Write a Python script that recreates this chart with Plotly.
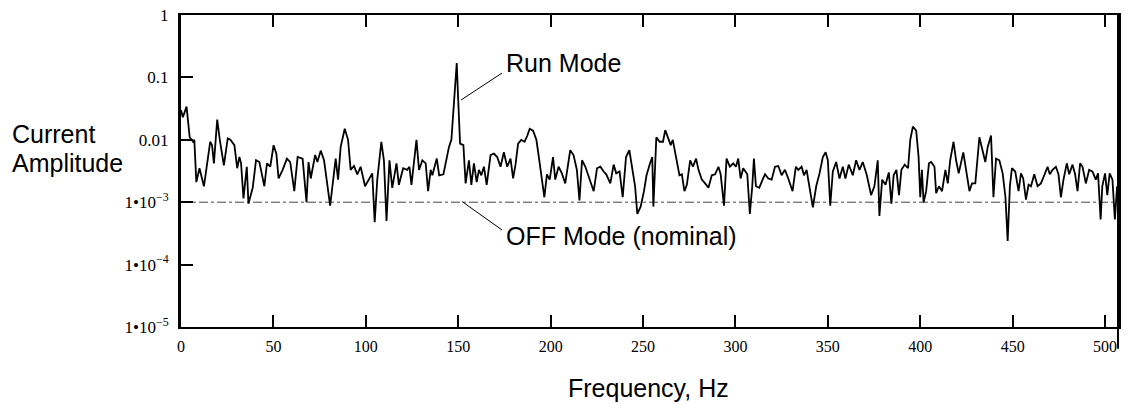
import plotly.graph_objects as go

# Frequency (Hz) and current amplitude
freq = [0.0, 1.0, 3.0, 4.7, 6.5, 7.2, 8.3, 10.0, 12.4, 14.2, 15.8, 16.8, 17.8, 19.6, 21.0, 23.2,
        25.3, 26.7, 28.9, 30.4, 31.6, 32.5, 33.8, 35.6, 36.5, 38.8, 40.6, 42.4, 45.1, 46.5, 48.3,
        50.1, 51.6, 52.8, 55.0, 57.3, 59.1, 61.3, 63.1, 65.8, 67.9, 69.0, 70.2, 72.6, 73.8, 75.6,
        77.4, 80.7, 83.7, 85.0, 86.4, 88.6, 90.4, 91.8, 93.6, 95.4, 97.2, 99.6, 101.7, 103.5,
        104.8, 106.2, 108.4, 109.8, 111.2, 112.8, 114.3, 116.6, 117.9, 120.2, 122.4, 123.6,
        124.7, 127.4, 128.8, 130.6, 132.4, 133.7, 135.1, 136.0, 138.4, 139.7, 142.0, 143.3,
        145.0, 146.3, 147.4, 148.6, 149.2, 150.0, 151.0, 152.8, 154.0, 155.8, 157.1, 158.5,
        160.0, 161.2, 162.5, 163.9, 165.4, 167.5, 169.3, 171.1, 172.9, 174.7, 176.5, 178.3,
        179.7, 181.0, 182.4, 184.1, 185.9, 187.3, 188.7, 190.5, 192.3, 194.1, 196.6, 198.0,
        199.5, 201.3, 202.5, 204.3, 206.1, 207.9, 209.7, 210.6, 212.4, 214.2, 215.6, 217.0,
        218.8, 221.1, 223.3, 225.1, 226.9, 228.7, 230.1, 232.3, 234.1, 235.5, 237.3, 239.0,
        240.8, 242.6, 244.4, 245.7, 246.9, 248.7, 250.5, 251.9, 253.8, 255.0, 255.6, 257.2,
        259.0, 260.8, 262.0, 263.8, 265.0, 266.1, 267.9, 269.7, 271.0, 272.4, 273.7, 275.5,
        277.0, 278.7, 280.0, 281.8, 283.6, 285.4, 287.2, 289.0, 290.8, 292.0, 293.8, 295.2,
        297.0, 298.8, 300.3, 301.5, 302.8, 304.2, 306.4, 307.8, 309.1, 310.0, 311.1, 312.9,
        314.7, 316.0, 317.8, 319.6, 321.4, 323.2, 325.0, 326.8, 328.6, 330.9, 332.7, 334.0,
        335.8, 337.1, 338.5, 340.0, 341.9, 343.7, 345.5, 347.3, 348.8, 350.0, 351.3, 352.7,
        354.5, 356.3, 358.1, 359.5, 361.3, 363.5, 365.3, 367.1, 368.9, 371.1, 373.4, 375.2,
        377.0, 377.9, 379.4, 381.2, 383.0, 384.4, 385.6, 387.1, 388.5, 389.8, 391.6, 393.4,
        394.6, 396.0, 397.8, 399.1, 400.0, 400.9, 401.8, 403.2, 404.7, 405.9, 407.7, 408.6,
        410.1, 411.8, 413.6, 414.9, 416.2, 418.0, 419.4, 420.8, 422.1, 423.3, 424.8, 426.6,
        428.0, 429.8, 432.0, 433.8, 435.2, 436.5, 438.3, 439.6, 441.0, 442.8, 444.6, 446.1,
        447.3, 448.5, 449.6, 451.4, 453.2, 454.5, 455.7, 457.2, 458.6, 459.9, 461.7, 463.5,
        465.3, 467.1, 468.9, 470.1, 471.6, 473.4, 474.8, 476.1, 477.5, 479.3, 480.6, 482.4,
        483.8, 485.1, 486.5, 487.8, 489.6, 491.4, 493.2, 495.0, 496.2, 497.6, 498.5, 500.0,
        501.2, 502.5, 504.0, 505.3, 506.5]

amp = [0.030, 0.023, 0.034, 0.011, 0.0093, 0.0100, 0.0021, 0.0035, 0.0018, 0.0047, 0.0093, 0.0082,
       0.0042, 0.021, 0.0100, 0.0039, 0.0105, 0.0100, 0.0082, 0.0035, 0.0053, 0.0042, 0.00115,
       0.0037, 0.00095, 0.0017, 0.0047, 0.0044, 0.0018, 0.0042, 0.0037, 0.0082, 0.0060, 0.0024,
       0.0033, 0.0050, 0.0044, 0.0015, 0.0053, 0.0050, 0.0010, 0.0044, 0.0024, 0.0057, 0.0044,
       0.0067, 0.0047, 0.00088, 0.0050, 0.0023, 0.0077, 0.015, 0.0100, 0.0033, 0.0038, 0.0028,
       0.0037, 0.0018, 0.0024, 0.0029, 0.00048, 0.0023, 0.0093, 0.0047, 0.00050, 0.0047, 0.0017,
       0.0042, 0.0019, 0.0035, 0.0033, 0.0037, 0.0019, 0.0100, 0.0033, 0.0047, 0.0042, 0.0015,
       0.0033, 0.0027, 0.0050, 0.0027, 0.0028, 0.0042, 0.0077, 0.0100, 0.026, 0.09, 0.17, 0.043,
       0.0087, 0.0082, 0.0020, 0.0047, 0.0019, 0.0042, 0.0021, 0.0033, 0.0027, 0.0037, 0.0019,
       0.0057, 0.0060, 0.0053, 0.0037, 0.0063, 0.0037, 0.0050, 0.0024, 0.0040, 0.0087, 0.0100,
       0.0093, 0.0115, 0.015, 0.0140, 0.0100, 0.0042, 0.0012, 0.0028, 0.0023, 0.0053, 0.0023,
       0.0037, 0.0029, 0.0020, 0.0047, 0.0068, 0.0057, 0.0033, 0.00107, 0.0047, 0.0037, 0.0023,
       0.0015, 0.0035, 0.0037, 0.0031, 0.0028, 0.0020, 0.0040, 0.0029, 0.0031, 0.0012, 0.0053,
       0.0068, 0.0029, 0.0018, 0.00065, 0.00085, 0.0015, 0.0027, 0.0042, 0.0053, 0.00085, 0.011,
       0.0093, 0.0093, 0.0143, 0.0100, 0.0082, 0.0100, 0.0053, 0.0027, 0.0028, 0.0015, 0.0019,
       0.0047, 0.0037, 0.0050, 0.0033, 0.0023, 0.0020, 0.0017, 0.0027, 0.0028, 0.0037, 0.0028,
       0.00088, 0.0050, 0.0037, 0.0042, 0.0037, 0.0050, 0.0024, 0.0035, 0.0028, 0.00065, 0.0018,
       0.0050, 0.0018, 0.0017, 0.0023, 0.0028, 0.0024, 0.0023, 0.0037, 0.0038, 0.0027, 0.0033,
       0.0024, 0.0015, 0.0037, 0.0033, 0.0037, 0.0027, 0.0033, 0.0017, 0.00083, 0.0018, 0.0029,
       0.0053, 0.0063, 0.0047, 0.00088, 0.0031, 0.0044, 0.0024, 0.0037, 0.0024, 0.0040, 0.0027,
       0.0047, 0.0033, 0.0044, 0.0027, 0.0013, 0.0018, 0.0047, 0.00060, 0.0023, 0.0019, 0.0030,
       0.00095, 0.0027, 0.0033, 0.0013, 0.0033, 0.0040, 0.0035, 0.0100, 0.0163, 0.0140, 0.0053,
       0.0012, 0.0033, 0.0010, 0.0015, 0.0042, 0.0044, 0.0037, 0.0014, 0.0018, 0.0015, 0.0033,
       0.0020, 0.0047, 0.0093, 0.0047, 0.0029, 0.0042, 0.0063, 0.0033, 0.0015, 0.0020, 0.0020,
       0.011, 0.0068, 0.0044, 0.0077, 0.0117, 0.0012, 0.0050, 0.0047, 0.0029, 0.0012, 0.00024,
       0.0018, 0.0035, 0.0031, 0.0015, 0.0029, 0.0024, 0.0011, 0.0019, 0.0018, 0.0028, 0.0018,
       0.0020, 0.0027, 0.0037, 0.0028, 0.0033, 0.0037, 0.0028, 0.0012, 0.0023, 0.0042, 0.0028,
       0.0040, 0.0028, 0.0015, 0.0042, 0.0037, 0.0020, 0.0033, 0.0031, 0.0023, 0.0029, 0.00053,
       0.0018, 0.0029, 0.0013, 0.0029, 0.0023, 0.00053, 0.0018]

off_level = 1e-3
x_ticks = [0, 50, 100, 150, 200, 250, 300, 350, 400, 450, 500]
y_ticks = [1, 0.1, 0.01, 1e-3, 1e-4, 1e-5]
y_tick_text = ["1", "0.1", "0.01", "1\u202210<sup>\u22123</sup>",
               "1\u202210<sup>\u22124</sup>", "1\u202210<sup>\u22125</sup>"]

serif = "Liberation Serif, Times New Roman, serif"
sans = "Liberation Sans, Arial, sans-serif"

fig = go.Figure()
fig.add_trace(go.Scatter(x=[0, 507], y=[off_level, off_level], mode="lines",
                         line=dict(color="#444444", width=1, dash="dashdot"),
                         hoverinfo="skip", showlegend=False))
fig.add_trace(go.Scatter(x=freq, y=amp, mode="lines",
                         line=dict(color="black", width=1.8), showlegend=False))

fig.update_layout(
    width=1126, height=404, autosize=False,
    margin=dict(l=181, r=5, t=15, b=77),
    paper_bgcolor="white", plot_bgcolor="white",
    xaxis=dict(range=[0, 507], tickvals=x_ticks, ticks="inside", ticklen=12, tickwidth=2,
               tickcolor="black", showline=True, linecolor="black", linewidth=2,
               mirror="ticks", showgrid=False, zeroline=False,
               tickfont=dict(family=serif, size=16, color="black"), ticklabelstandoff=4),
    yaxis=dict(type="log", range=[-5, 0], tickvals=y_ticks, ticktext=y_tick_text,
               ticks="inside", ticklen=12, tickwidth=2, tickcolor="black",
               showline=True, linecolor="black", linewidth=3, mirror=True,
               showgrid=False, zeroline=False,
               tickfont=dict(family=serif, size=17, color="black"), ticklabelstandoff=6),
)

# right frame line dropping below the axis
fig.add_shape(type="line", xref="paper", yref="paper", x0=1, x1=1, y0=-0.07, y1=1,
              line=dict(color="black", width=2))

# annotation leader lines
fig.add_shape(type="line", xref="paper", yref="paper", x0=0.2989, y0=0.7276, x1=0.3426, y1=0.814,
              line=dict(color="black", width=1))
fig.add_shape(type="line", xref="paper", yref="paper", x0=0.300, y0=0.402, x1=0.3426, y1=0.311,
              line=dict(color="black", width=1))

fig.add_annotation(text="Run Mode", xref="paper", yref="paper", x=0.3447, y=0.846,
                   xanchor="left", yanchor="middle", showarrow=False,
                   font=dict(family=sans, size=25, color="black"))
fig.add_annotation(text="OFF Mode (nominal)", xref="paper", yref="paper", x=0.3447, y=0.292,
                   xanchor="left", yanchor="middle", showarrow=False,
                   font=dict(family=sans, size=25, color="black"))
fig.add_annotation(text="Current", xref="paper", yref="paper", x=-0.182, y=0.617,
                   xanchor="left", yanchor="middle", showarrow=False,
                   font=dict(family=sans, size=25, color="black"))
fig.add_annotation(text="Amplitude", xref="paper", yref="paper", x=-0.182, y=0.527,
                   xanchor="left", yanchor="middle", showarrow=False,
                   font=dict(family=sans, size=25, color="black"))
fig.add_annotation(text="Frequency, Hz", xref="paper", yref="paper", x=0.499, y=-0.197,
                   xanchor="center", yanchor="middle", showarrow=False,
                   font=dict(family=sans, size=25, color="black"))

fig.write_html("out.html")
